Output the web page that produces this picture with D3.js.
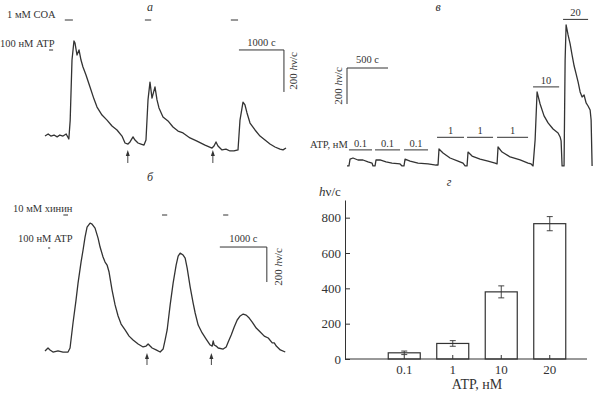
<!DOCTYPE html>
<html>
<head>
<meta charset="utf-8">
<script src="https://cdn.jsdelivr.net/npm/d3@7"></script>
<style>
  body { margin: 0; background: #fff; }
  svg { display: block; }
  svg text { font-family: 'Liberation Serif', 'DejaVu Serif', serif; }
</style>
</head>
<body>
<svg></svg>
<script>
// ---- data (time in s, signal in hv/c) ----
// panel a: 1 mM COA
const traceA = [[0,114],[70,124],[130,114],[200,119],[270,110],[330,119],[400,114],[470,124],[530,100],[560,190],
  [600,476],[644,567],[667,557],[711,500],[756,524],[800,476],[844,443],[911,405],[1000,348],[1089,290],
  [1156,252],[1267,214],[1378,190],[1489,162],[1600,143],[1711,114],[1778,81],[1844,76],[1889,86],[1956,110],
  [2000,95],[2067,81],[2133,76],[2200,71],[2244,95],[2289,286],[2333,371],[2378,295],[2444,348],[2489,286],
  [2533,248],[2622,205],[2733,186],[2844,157],[2956,138],[3067,129],[3222,105],[3378,90],[3556,71],[3711,57],
  [3756,67],[3800,86],[3844,67],[3933,48],[4022,52],[4111,43],[4200,43],[4289,48],[4333,190],[4400,276],
  [4444,262],[4489,224],[4556,176],[4667,143],[4778,114],[4889,95],[5000,76],[5111,62],[5222,52],[5289,48],[5356,57]];
const coaPulses = [[440, 620], [2220, 2360], [4130, 4290]];
const atpLegendA = [90, 180];
const arrowsA = [1840, 3730];

// panel б: 10 mM quinine
const traceB = [[0,23],[64,40],[107,29],[170,17],[277,23],[383,17],[490,17],[533,40],[596,183],[660,314],
  [703,411],[767,531],[810,600],[852,674],[895,731],[959,754],[1001,748],[1065,725],[1129,668],[1172,617],
  [1235,560],[1278,531],[1321,514],[1363,474],[1427,371],[1491,286],[1555,223],[1619,177],[1704,143],[1789,108],
  [1874,86],[1981,63],[2087,46],[2151,51],[2194,63],[2237,51],[2279,40],[2364,29],[2450,17],[2513,34],
  [2556,86],[2599,143],[2663,286],[2726,411],[2790,514],[2833,565],[2876,582],[2939,571],[2982,554],[3025,497],
  [3089,388],[3152,297],[3195,240],[3259,171],[3344,126],[3429,91],[3515,57],[3557,51],[3578,80],[3600,57],
  [3642,51],[3685,40],[3791,34],[3855,46],[3898,74],[3962,114],[4026,160],[4089,200],[4153,223],[4217,234],
  [4281,228],[4345,211],[4409,188],[4494,154],[4580,131],[4665,108],[4750,97],[4835,69],[4878,69],[4921,51],
  [5006,29],[5112,17]];
const quininePulses = [[390, 490], [2490, 2600], [3790, 3900]];
const atpLegendB = [65, 110];
const arrowsB = [2170, 3540];

// panel в: ATP dose series
const traceV = [[0,6],[24,6],[37,44],[73,50],[134,39],[195,39],[256,28],[305,22],[317,6],[342,6],
  [354,39],[403,39],[476,28],[549,22],[647,17],[671,6],[695,6],[708,44],[769,33],[866,22],
  [988,17],[1086,11],[1110,11],[1122,100],[1171,78],[1257,50],[1354,33],[1415,22],[1440,6],[1464,6],
  [1476,83],[1525,61],[1623,44],[1720,33],[1806,22],[1830,17],[1842,111],[1891,83],[1989,56],[2111,39],
  [2208,22],[2245,17],[2269,6],[2294,150],[2318,417],[2355,350],[2403,284],[2452,245],[2513,211],[2574,189],
  [2599,167],[2611,145],[2623,6],[2647,6],[2660,595],[2672,789],[2696,734],[2721,684],[2745,622],[2770,561],
  [2794,517],[2818,473],[2843,417],[2867,389],[2891,400],[2916,356],[2940,339],[2965,317],[2977,261],[2989,6]];
const doseLabels = ['0.1', '0.1', '0.1', '1', '1', '1', '10', '20'];
const doseStart = [24, 342, 695, 1098, 1464, 1830, 2269, 2635];
const doseEnd = [305, 647, 988, 1427, 1781, 2208, 2587, 2940];
const doseLevel = [95, 95, 95, 165, 165, 165, 445, 820];

// panel г: mean response
const atpCats = ['0.1', '1', '10', '20'];
const meanResp = [35, 88, 380, 766];
const errResp = [10, 16, 34, 40];
const yTicksG = [0, 200, 400, 600, 800];

// ---- layout ----
const WIDTH = 594;
const HEIGHT = 393;
const FONT = "'Liberation Serif', 'DejaVu Serif', serif";
const INK = '#333';

const svg = d3.select('svg')
  .attr('width', WIDTH)
  .attr('height', HEIGHT)
  .attr('font-family', FONT)
  .attr('fill', INK);

svg.append('rect').attr('width', WIDTH).attr('height', HEIGHT).attr('fill', '#fff');

function panelLetter(txt, x, y) {
  svg.append('text').text(txt)
    .attr('x', x).attr('y', y)
    .attr('font-size', 12).attr('font-style', 'italic')
    .attr('text-anchor', 'middle');
}

function label(txt, x, y, size, anchor) {
  return svg.append('text').text(txt)
    .attr('x', x).attr('y', y)
    .attr('font-size', size || 10.5)
    .attr('text-anchor', anchor || 'start');
}

function hline(x1, x2, y, w) {
  svg.append('line')
    .attr('x1', x1).attr('x2', x2).attr('y1', y).attr('y2', y)
    .attr('stroke', INK).attr('stroke-width', w || 1);
}

function vline(x, y1, y2, w) {
  svg.append('line')
    .attr('x1', x).attr('x2', x).attr('y1', y1).attr('y2', y2)
    .attr('stroke', INK).attr('stroke-width', w || 1);
}

function rotLabel(x, y) {
  const t = svg.append('text')
    .attr('transform', `translate(${x},${y}) rotate(-90)`)
    .attr('font-size', 11)
    .attr('text-anchor', 'middle');
  t.append('tspan').text('200 ');
  t.append('tspan').text('h').attr('font-style', 'italic');
  t.append('tspan').text('ν/c');
}

function arrow(x, yTip, yEnd) {
  vline(x, yTip + 3, yEnd, 0.9);
  svg.append('path')
    .attr('d', `M${x - 2},${yTip + 6}L${x},${yTip}L${x + 2},${yTip + 6}Z`)
    .attr('fill', INK);
}

function drawTrace(data, x, y) {
  const line = d3.line().x(d => x(d[0])).y(d => y(d[1]));
  svg.append('path')
    .datum(data)
    .attr('d', line)
    .attr('fill', 'none')
    .attr('stroke', INK)
    .attr('stroke-width', 1.3)
    .attr('stroke-linejoin', 'round');
}

/* --- panel a --- */
const xA = d3.scaleLinear().domain([0, 5400]).range([45, 288]);
const yA = d3.scaleLinear().domain([0, 600]).range([160, 34]);

panelLetter('а', 150, 11);
label('1 мМ COA', 7, 18);
coaPulses.forEach(p => hline(xA(p[0]), xA(p[1]), 20));
label('100 нМ ATP', 0, 47);
hline(xA(atpLegendA[0]), xA(atpLegendA[1]), 50);
drawTrace(traceA, xA, yA);
arrowsA.forEach(t => arrow(xA(t), 150, 163));

// scale bar 1000 s x 200 hv/c
hline(xA(4310), xA(5310), yA(524));
vline(xA(5310), yA(524), yA(324));
label('1000 с', (xA(4310) + xA(5310)) / 2, 46, 10.5, 'middle');
rotLabel(297, 71);

/* --- panel б --- */
const xB = d3.scaleLinear().domain([0, 5200]).range([45, 289.4]);
const yB = d3.scaleLinear().domain([0, 800]).range([355, 215]);

panelLetter('б', 150, 181);
label('10 мМ хинин', 13, 212);
quininePulses.forEach(p => hline(xB(p[0]), xB(p[1]), 215));
label('100 нМ ATP', 18, 242);
hline(xB(atpLegendB[0]), xB(atpLegendB[1]), 248);
drawTrace(traceB, xB, yB);
arrowsB.forEach(t => arrow(xB(t), 353, 365));

hline(xB(3720), xB(4720), yB(617));
vline(xB(4720), yB(617), yB(417));
label('1000 с', (xB(3720) + xB(4720)) / 2, 242, 10.5, 'middle');
rotLabel(282, 267);

/* --- panel в --- */
const xV = d3.scaleLinear().domain([0, 3000]).range([347, 593]);
const yV = d3.scaleLinear().domain([0, 800]).range([167, 23]);

panelLetter('в', 438, 11);
drawTrace(traceV, xV, yV);
label('ATP, нМ', 310, 148, 10.5);
doseLabels.forEach((lab, i) => {
  const yy = yV(doseLevel[i]);
  hline(xV(doseStart[i]), xV(doseEnd[i]), yy);
  label(lab, (xV(doseStart[i]) + xV(doseEnd[i])) / 2, yy - 3, 10.5, 'middle');
});

hline(xV(0), xV(500), yV(550));
vline(xV(0), yV(550), yV(350));
label('500 с', (xV(0) + xV(500)) / 2, 63, 10.5, 'middle');
rotLabel(342, 86);

/* --- panel г --- */
const xG = d3.scaleBand().domain(atpCats).range([380, 574])
  .paddingInner(0.34).paddingOuter(0.17);
const yG = d3.scaleLinear().domain([0, 900]).range([359, 200]);
const AXIS_X = 345;

panelLetter('г', 449, 186);
const yt = svg.append('text').attr('x', 319).attr('y', 196).attr('font-size', 13);
yt.append('tspan').text('h').attr('font-style', 'italic');
yt.append('tspan').text('ν/c');

const yAxisG = d3.axisLeft(yG)
  .tickValues(yTicksG)
  .tickSizeInner(-5)
  .tickSizeOuter(0)
  .tickPadding(4);

svg.append('g')
  .attr('transform', `translate(${AXIS_X},0)`)
  .call(yAxisG)
  .attr('font-family', FONT)
  .call(g => g.selectAll('text').attr('font-size', 13).attr('fill', INK))
  .call(g => g.selectAll('line,path').attr('stroke', INK));

svg.selectAll('.bar')
  .data(atpCats)
  .enter()
  .append('rect')
  .attr('class', 'bar')
  .attr('x', d => xG(d))
  .attr('y', (d, i) => yG(meanResp[i]))
  .attr('width', xG.bandwidth())
  .attr('height', (d, i) => yG(0) - yG(meanResp[i]))
  .attr('fill', '#fff')
  .attr('stroke', INK)
  .attr('stroke-width', 1.2);

const xAxisG = d3.axisBottom(xG)
  .tickSizeInner(-4)
  .tickSizeOuter(0)
  .tickPadding(6);

svg.append('g')
  .attr('transform', `translate(0,${yG(0)})`)
  .call(xAxisG)
  .attr('font-family', FONT)
  .call(g => g.select('.domain').remove())
  .call(g => g.selectAll('text').attr('font-size', 13).attr('fill', INK))
  .call(g => g.selectAll('line').attr('stroke', INK));

hline(AXIS_X, 587, yG(0), 1);

// error bars
atpCats.forEach((c, i) => {
  const cx = xG(c) + xG.bandwidth() / 2;
  const top = yG(meanResp[i] + errResp[i]);
  const bot = yG(meanResp[i] - errResp[i]);
  vline(cx, top, bot, 0.9);
  hline(cx - 3, cx + 3, top, 0.9);
  hline(cx - 3, cx + 3, bot, 0.9);
});

label('ATP, нМ', (xG.range()[0] + xG.range()[1]) / 2, 389, 14, 'middle');
</script>
</body>
</html>
